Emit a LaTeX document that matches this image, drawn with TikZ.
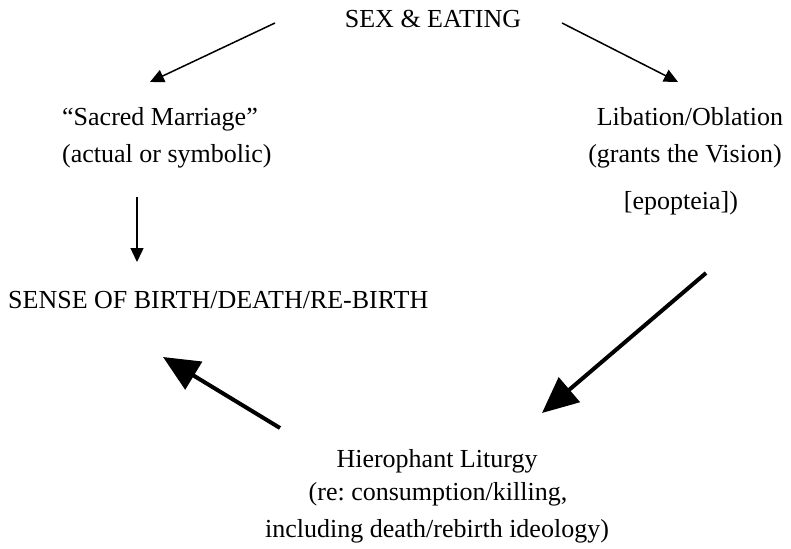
\documentclass[tikz,border=0pt]{standalone}
\usepackage{fontspec}
\setmainfont{Liberation Serif}
\usetikzlibrary{arrows.meta}
\frenchspacing
\pgfdeclarelayer{edgelayer}
\pgfdeclarelayer{nodelayer}
\pgfsetlayers{edgelayer,nodelayer,main}
\tikzstyle{none}=[inner sep=0pt]
\tikzstyle{txt}=[inner sep=0pt,anchor=base,font=\fontsize{26}{30}\selectfont]
\tikzstyle{txtleft}=[txt,anchor=base west]
\tikzstyle{thinarrow}=[-{Triangle[length=14pt,width=13pt]},draw=black,line width=1.5pt]
\tikzstyle{thickarrow}=[-{Triangle[length=36pt,width=32pt]},draw=black,line width=4pt]
\begin{document}
\begin{tikzpicture}[x=1pt,y=-1pt]
	\useasboundingbox (0,0) rectangle (791,548);
	\begin{pgfonlayer}{nodelayer}
		\node [style=txt] (0) at (433, 28) {SEX \& EATING};
		\node [style=txtleft] (1) at (62, 126) {``Sacred Marriage''};
		\node [style=txtleft] (2) at (62, 163) {(actual or symbolic)};
		\node [style=txt] (3) at (690, 126) {Libation/Oblation};
		\node [style=txt] (4) at (685, 163) {(grants the Vision)};
		\node [style=txt] (5) at (681, 209) {[epopteia])};
		\node [style=txtleft] (6) at (8, 308) {SENSE OF BIRTH/DEATH/RE-BIRTH};
		\node [style=txt] (7) at (437, 467) {Hierophant Liturgy};
		\node [style=txt] (8) at (438, 500) {(re: consumption/killing,};
		\node [style=txt] (9) at (437, 537) {including death/rebirth ideology)};
		\node [style=none] (10) at (275, 23) {};
		\node [style=none] (11) at (150, 82) {};
		\node [style=none] (12) at (562, 23) {};
		\node [style=none] (13) at (678, 82) {};
		\node [style=none] (14) at (137, 197) {};
		\node [style=none] (15) at (137, 262) {};
		\node [style=none] (16) at (706, 273) {};
		\node [style=none] (17) at (542, 413) {};
		\node [style=none] (18) at (280, 428) {};
		\node [style=none] (19) at (163, 357) {};
	\end{pgfonlayer}
	\begin{pgfonlayer}{edgelayer}
		\draw [style=thinarrow] (10.center) to (11.center);
		\draw [style=thinarrow] (12.center) to (13.center);
		\draw [style=thinarrow] (14.center) to (15.center);
		\draw [style=thickarrow] (16.center) to (17.center);
		\draw [style=thickarrow] (18.center) to (19.center);
	\end{pgfonlayer}
\end{tikzpicture}
\end{document}
